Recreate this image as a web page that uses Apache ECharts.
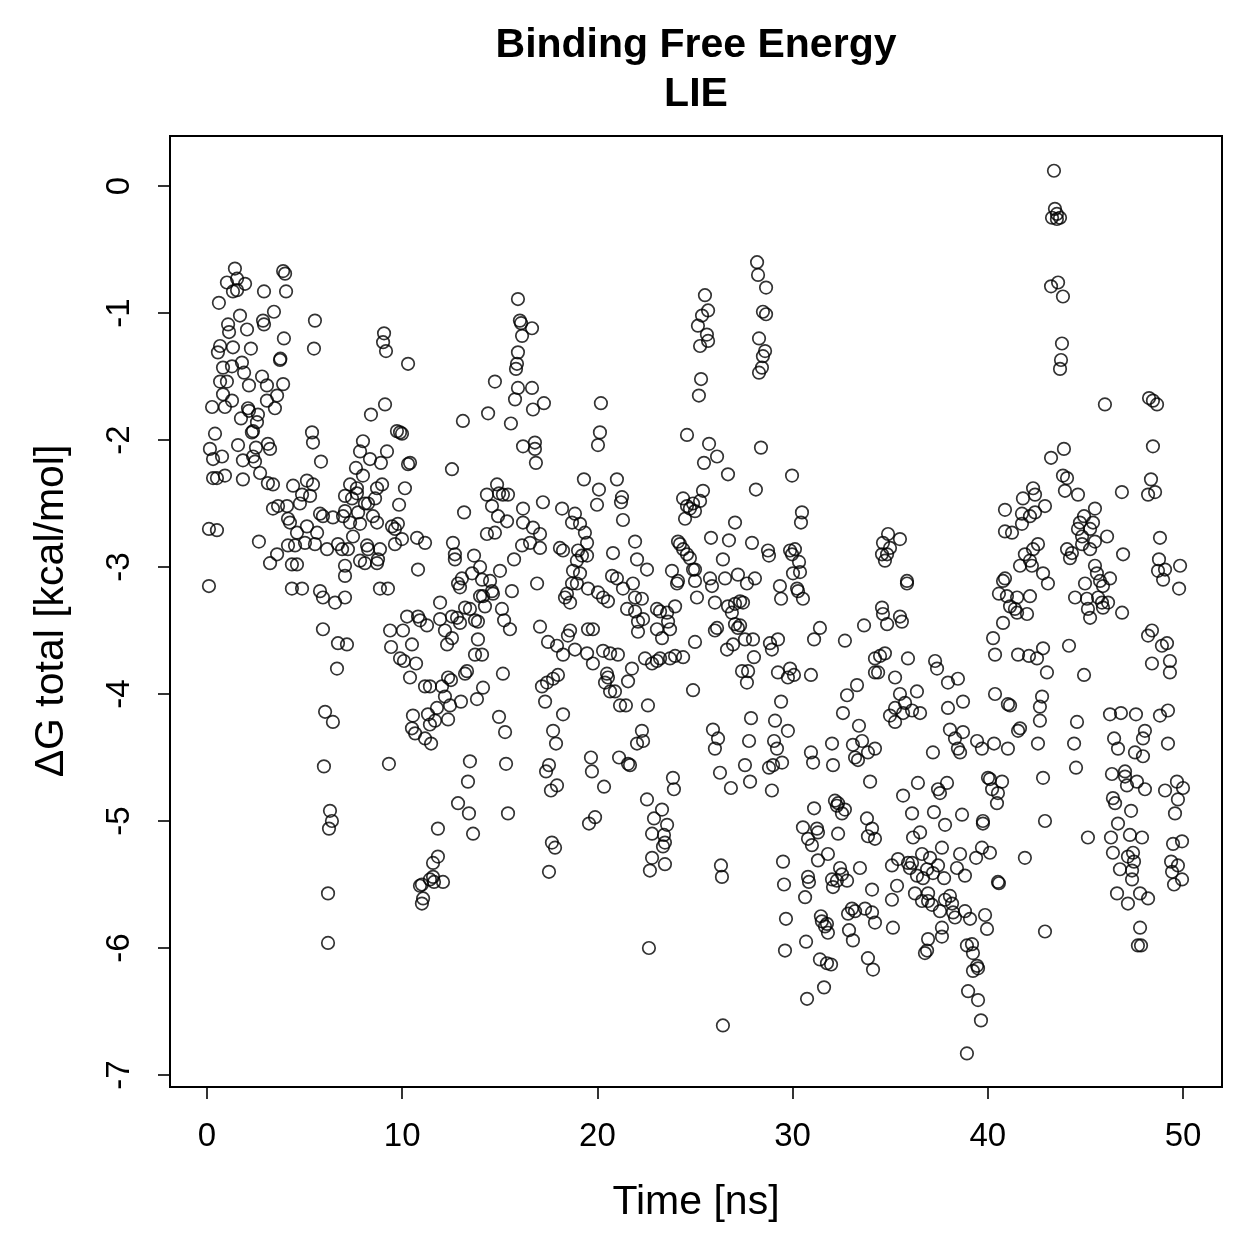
<!DOCTYPE html>
<html>
<head>
<meta charset="utf-8">
<script src="https://cdn.jsdelivr.net/npm/echarts@6/dist/echarts.min.js"></script>
<style>html,body{margin:0;padding:0;background:#fff}#c{width:1259px;height:1259px}</style>
</head>
<body>
<div id="c"></div>
<script>
// [time (ns), dG total (kcal/mol)] pairs, grouped by region
const early0to6 = [[1.43,-0.65],[3.9,-0.67],[4.0,-0.69],[1.02,-0.76],[1.54,-0.73],[1.95,-0.77],[1.33,-0.83],[1.54,-0.82],[2.92,-0.83],[4.05,-0.83],[0.61,-0.92],[3.43,-0.99],[1.69,-1.02],[1.08,-1.09],[2.87,-1.06],[2.92,-1.09],[5.53,-1.06],[2.05,-1.13],[1.13,-1.15],[3.94,-1.2],[0.67,-1.26],[0.56,-1.31],[1.33,-1.27],[2.25,-1.28],[5.48,-1.28],[3.74,-1.37],[3.76,-1.36],[1.79,-1.39],[0.82,-1.43],[1.28,-1.42],[1.9,-1.47],[2.82,-1.5],[0.67,-1.54],[1.02,-1.54],[2.15,-1.57],[3.07,-1.57],[3.9,-1.56],[0.82,-1.64],[3.59,-1.65],[1.28,-1.69],[3.07,-1.69],[0.26,-1.74],[0.92,-1.74],[3.48,-1.75],[2.1,-1.75],[2.15,-1.77],[2.61,-1.8],[1.74,-1.83],[2.56,-1.86],[2.36,-1.93],[2.3,-1.94],[0.41,-1.95],[5.38,-1.94],[5.43,-2.02],[0.15,-2.07],[0.31,-2.15],[1.59,-2.04],[0.77,-2.13],[2.51,-2.06],[2.36,-2.13],[2.46,-2.17],[3.12,-2.03],[3.23,-2.07],[1.84,-2.16],[5.84,-2.17],[0.31,-2.3],[0.51,-2.3],[0.92,-2.28],[1.84,-2.31],[2.72,-2.26],[3.12,-2.34],[3.38,-2.35],[0.1,-2.7],[0.51,-2.71],[2.66,-2.8],[0.1,-3.15]];
const early3to7 = [[4.41,-2.36],[5.12,-2.32],[5.43,-2.35],[4.87,-2.43],[5.28,-2.44],[4.76,-2.5],[3.38,-2.54],[3.64,-2.52],[4.1,-2.52],[4.15,-2.62],[4.25,-2.65],[5.79,-2.58],[5.94,-2.6],[6.45,-2.61],[6.97,-2.6],[4.61,-2.73],[5.12,-2.68],[5.64,-2.73],[4.15,-2.83],[4.51,-2.83],[5.02,-2.81],[5.53,-2.82],[6.15,-2.86],[6.71,-2.82],[6.92,-2.86],[3.59,-2.9],[3.23,-2.97],[4.35,-2.98],[4.61,-2.98],[4.35,-3.17],[4.87,-3.17],[5.79,-3.19],[5.94,-3.24],[6.56,-3.28]];
const dip6 = [[5.94,-3.49],[6.71,-3.6],[7.17,-3.61],[6.66,-3.8],[6.05,-4.14],[6.45,-4.22],[5.99,-4.57],[6.3,-4.92],[6.4,-5.0],[6.25,-5.06],[6.2,-5.57],[6.2,-5.96]];
const mid7to16 = [[15.93,-0.89],[16.03,-1.06],[16.09,-1.08],[16.14,-1.18],[15.93,-1.31],[15.88,-1.4],[15.83,-1.44],[15.93,-1.59],[15.78,-1.68],[15.57,-1.87],[16.19,-2.05],[14.75,-1.54],[14.4,-1.79],[13.11,-1.85],[9.07,-1.16],[9.02,-1.23],[9.17,-1.3],[10.3,-1.4],[9.12,-1.72],[8.4,-1.8],[9.73,-1.93],[9.89,-1.94],[9.99,-1.95],[7.99,-2.01],[7.84,-2.09],[8.35,-2.15],[8.91,-2.18],[9.22,-2.09],[10.3,-2.19],[10.4,-2.18],[7.63,-2.22],[7.99,-2.28],[12.55,-2.23],[10.14,-2.38],[7.33,-2.35],[7.68,-2.38],[7.68,-2.42],[8.71,-2.38],[8.97,-2.35],[7.07,-2.44],[7.43,-2.46],[8.09,-2.5],[8.25,-2.5],[8.61,-2.46],[9.84,-2.51],[13.17,-2.57],[7.07,-2.56],[7.74,-2.57],[8.5,-2.6],[7.33,-2.65],[7.84,-2.66],[8.71,-2.65],[9.48,-2.68],[9.63,-2.7],[9.78,-2.66],[7.48,-2.76],[9.99,-2.78],[9.63,-2.82],[10.76,-2.77],[11.17,-2.81],[8.2,-2.83],[8.25,-2.86],[8.86,-2.86],[7.22,-2.86],[7.84,-2.95],[8.09,-2.97],[8.71,-2.97],[8.76,-2.94],[7.07,-2.99],[7.07,-3.07],[10.81,-3.02],[12.6,-2.81],[12.7,-2.9],[12.7,-2.94],[13.68,-2.91],[13.99,-3.0],[15.01,-3.03],[15.73,-2.94],[16.19,-2.54],[16.19,-2.65],[16.14,-2.83],[13.06,-3.09],[12.86,-3.13],[12.96,-3.16],[13.58,-3.05],[14.09,-3.1],[14.5,-3.11],[14.6,-3.19],[14.65,-3.21],[14.14,-3.23],[13.99,-3.23],[15.62,-3.19],[8.86,-3.17],[9.27,-3.17],[7.07,-3.24],[11.94,-3.28],[13.22,-3.32],[13.47,-3.33],[14.24,-3.31],[15.11,-3.33],[10.25,-3.39],[10.81,-3.39],[12.55,-3.39],[14.34,-2.43],[14.86,-2.35],[14.96,-2.42],[15.16,-2.43],[15.42,-2.43],[14.6,-2.52],[14.91,-2.6],[15.37,-2.64],[14.34,-2.74],[14.75,-2.73]];
const mid9to15low = [[11.94,-3.41],[15.22,-3.42],[15.52,-3.49],[10.91,-3.42],[11.27,-3.46],[9.38,-3.5],[10.04,-3.5],[9.43,-3.63],[10.5,-3.61],[12.81,-3.4],[12.96,-3.44],[13.73,-3.42],[13.88,-3.43],[12.19,-3.5],[12.55,-3.56],[12.3,-3.61],[13.88,-3.57],[13.73,-3.69],[14.09,-3.69],[9.89,-3.72],[10.09,-3.74],[10.71,-3.76],[10.4,-3.87],[11.17,-3.94],[11.42,-3.94],[12.04,-3.94],[12.35,-3.87],[12.5,-3.89],[13.22,-3.84],[13.32,-3.82],[14.14,-3.95],[13.83,-4.04],[15.16,-3.84],[12.19,-4.02],[12.45,-4.09],[11.78,-4.11],[13.01,-4.06],[10.55,-4.17],[10.5,-4.27],[10.66,-4.31],[11.32,-4.16],[11.42,-4.24],[11.68,-4.21],[12.35,-4.2],[11.17,-4.35],[11.48,-4.39],[14.96,-4.18],[15.27,-4.3],[9.32,-4.55],[13.47,-4.53],[15.32,-4.55],[13.37,-4.69],[12.86,-4.86],[13.42,-4.94],[15.42,-4.94],[13.63,-5.1],[11.83,-5.06],[11.83,-5.28],[11.58,-5.33],[11.58,-5.44],[11.42,-5.46],[12.09,-5.48],[11.63,-5.48],[11.01,-5.5],[10.91,-5.51],[11.07,-5.61],[11.01,-5.65]];
const mid16to25 = [[16.65,-1.12],[16.65,-1.59],[16.7,-1.76],[17.26,-1.71],[16.8,-2.02],[16.8,-2.07],[16.85,-2.18],[20.18,-1.71],[20.13,-1.94],[20.03,-2.04],[24.59,-1.96],[19.31,-2.31],[20.08,-2.39],[19.98,-2.51],[21.0,-2.31],[21.26,-2.45],[21.21,-2.49],[17.21,-2.49],[18.19,-2.54],[18.85,-2.58],[16.7,-2.69],[17.06,-2.74],[16.55,-2.81],[17.06,-2.85],[18.7,-2.65],[19.11,-2.66],[19.36,-2.73],[19.47,-2.81],[24.39,-2.46],[24.59,-2.52],[24.74,-2.54],[24.9,-2.5],[24.49,-2.62],[21.31,-2.63],[21.93,-2.8],[18.08,-2.85],[18.24,-2.87],[19.01,-2.87],[19.21,-2.91],[18.95,-2.95],[19.47,-2.91],[20.8,-2.89],[22.03,-2.94],[22.54,-3.02],[24.13,-2.8],[24.23,-2.82],[24.39,-2.86],[24.59,-2.9],[24.74,-2.93],[24.9,-3.02],[23.82,-3.03],[24.13,-3.11],[24.08,-3.13],[16.91,-3.13],[18.75,-3.03],[19.11,-3.05],[18.7,-3.13],[18.95,-3.13],[20.75,-3.07],[21.0,-3.09],[21.82,-3.13],[18.44,-3.21],[18.6,-3.28],[18.34,-3.24],[19.52,-3.17],[20.03,-3.2],[20.29,-3.24],[20.54,-3.27],[21.31,-3.17],[21.93,-3.24],[22.28,-3.25],[21.52,-3.33],[21.93,-3.35],[23.05,-3.33],[23.21,-3.35],[23.98,-3.31]];
const mid16to25low = [[22.08,-3.43],[22.34,-3.41],[23.57,-3.36],[23.62,-3.43],[23.72,-3.49],[23.05,-3.49],[23.31,-3.56],[22.08,-3.51],[17.06,-3.47],[18.6,-3.5],[18.49,-3.54],[19.52,-3.49],[19.77,-3.49],[17.47,-3.59],[17.93,-3.62],[18.24,-3.69],[18.85,-3.65],[19.47,-3.68],[19.77,-3.76],[20.29,-3.66],[20.65,-3.68],[21.05,-3.69],[25.0,-3.59],[21.77,-3.8],[22.44,-3.72],[22.8,-3.76],[23.05,-3.74],[23.21,-3.72],[23.72,-3.72],[23.98,-3.7],[24.39,-3.71],[17.16,-3.94],[17.42,-3.91],[17.73,-3.88],[17.98,-3.85],[20.49,-3.84],[20.54,-3.87],[20.39,-3.91],[20.65,-3.98],[20.9,-3.98],[21.57,-3.9],[17.32,-4.06],[18.24,-4.16],[21.16,-4.09],[21.46,-4.09],[22.59,-4.09],[24.9,-3.97],[17.73,-4.29],[17.88,-4.39],[22.28,-4.29],[22.03,-4.39],[22.34,-4.37],[19.67,-4.5],[19.72,-4.61],[21.11,-4.5],[21.57,-4.55],[21.67,-4.56],[17.52,-4.56],[17.37,-4.61],[17.93,-4.72],[17.62,-4.76],[20.34,-4.73],[23.87,-4.66],[23.92,-4.75],[22.54,-4.83],[23.31,-4.91],[22.9,-4.98],[23.57,-5.03],[22.8,-5.1],[23.41,-5.11],[23.46,-5.17],[23.36,-5.2],[22.8,-5.29],[23.46,-5.34],[22.69,-5.39],[19.88,-4.97],[19.57,-5.02],[17.67,-5.17],[17.83,-5.21],[17.52,-5.4],[22.64,-6.0]];
const mid25to31 = [[28.18,-0.6],[28.23,-0.7],[28.64,-0.8],[28.48,-0.99],[28.64,-1.01],[25.51,-0.86],[25.67,-0.98],[25.36,-1.02],[25.15,-1.1],[25.61,-1.17],[25.67,-1.22],[25.26,-1.26],[28.28,-1.2],[28.59,-1.3],[28.48,-1.34],[28.43,-1.43],[28.28,-1.47],[25.31,-1.52],[25.2,-1.65],[25.72,-2.03],[26.13,-2.13],[25.46,-2.18],[28.38,-2.06],[26.69,-2.27],[29.97,-2.28],[28.12,-2.39],[25.41,-2.4],[25.26,-2.48],[25.0,-2.56],[30.48,-2.57],[30.43,-2.65],[27.05,-2.65],[25.82,-2.77],[26.74,-2.79],[27.92,-2.81],[28.74,-2.87],[28.79,-2.91],[29.87,-2.87],[30.12,-2.86],[29.97,-2.9],[30.33,-2.96],[30.02,-3.05],[30.38,-3.04],[26.43,-2.94],[25.0,-3.02],[25.0,-3.11],[25.1,-3.24],[25.77,-3.09],[25.87,-3.15],[26.54,-3.09],[27.2,-3.06],[27.66,-3.13],[28.07,-3.09],[29.35,-3.15],[29.41,-3.25],[30.23,-3.17],[30.28,-3.19],[30.53,-3.25],[26.02,-3.28],[26.69,-3.31],[27.05,-3.29],[27.31,-3.27],[27.46,-3.28],[26.89,-3.36]];
const mid25to35low = [[26.13,-3.48],[26.02,-3.5],[27.05,-3.45],[27.2,-3.48],[27.31,-3.46],[31.4,-3.48],[31.1,-3.57],[32.68,-3.58],[33.66,-3.46],[34.22,-3.72],[34.22,-3.83],[26.64,-3.65],[26.95,-3.61],[27.56,-3.57],[27.97,-3.57],[28.02,-3.71],[28.84,-3.6],[28.94,-3.65],[29.25,-3.57],[27.41,-3.82],[27.72,-3.82],[27.66,-3.91],[29.25,-3.83],[29.76,-3.87],[29.87,-3.8],[30.07,-3.85],[30.94,-3.85],[29.41,-4.06],[33.3,-3.93],[32.79,-4.01],[32.58,-4.15],[27.87,-4.19],[29.1,-4.21],[29.76,-4.29],[25.92,-4.28],[26.18,-4.35],[26.02,-4.43],[27.77,-4.37],[29.05,-4.37],[29.2,-4.43],[30.94,-4.46],[31.05,-4.54],[32.02,-4.39],[32.07,-4.56],[33.4,-4.25],[33.09,-4.4],[33.56,-4.37],[33.86,-4.46],[33.2,-4.5],[33.35,-4.52],[34.22,-4.43],[27.56,-4.56],[28.79,-4.58],[29.0,-4.56],[29.46,-4.54],[26.28,-4.62],[26.84,-4.74],[27.82,-4.69],[28.94,-4.76],[33.97,-4.69],[31.1,-4.9],[32.17,-4.84],[32.33,-4.86],[32.27,-4.88],[32.53,-4.94],[32.68,-4.91],[33.81,-4.98],[34.07,-5.06],[33.86,-5.12],[34.22,-5.14],[30.53,-5.05],[31.25,-5.06],[31.3,-5.09],[30.79,-5.14],[30.99,-5.19],[32.33,-5.1],[31.81,-5.26],[31.3,-5.31],[29.51,-5.32],[33.45,-5.37],[32.43,-5.37],[32.53,-5.42],[32.79,-5.47],[32.27,-5.47],[32.02,-5.46],[32.07,-5.52],[30.79,-5.44],[30.84,-5.48],[30.64,-5.6],[29.56,-5.5],[26.33,-5.35],[26.38,-5.44],[34.07,-5.54],[33.04,-5.69],[32.84,-5.73],[33.2,-5.71],[33.71,-5.69],[34.22,-5.8],[34.07,-5.72],[31.45,-5.75],[31.5,-5.79],[31.66,-5.83],[31.81,-5.88],[31.76,-5.81],[32.89,-5.86],[33.09,-5.94],[33.86,-6.08],[34.12,-6.17],[29.66,-5.77],[29.61,-6.02],[30.69,-5.95],[31.4,-6.09],[31.76,-6.12],[31.97,-6.13],[31.61,-6.31],[30.74,-6.4],[26.43,-6.61]];
const late34to43 = [[42.32,-2.38],[42.42,-2.43],[41.8,-2.46],[42.93,-2.52],[40.88,-2.55],[41.75,-2.58],[42.16,-2.6],[42.42,-2.57],[41.75,-2.66],[40.88,-2.72],[41.24,-2.73],[34.89,-2.74],[35.5,-2.78],[34.63,-2.81],[34.99,-2.85],[34.84,-2.9],[34.58,-2.9],[34.73,-2.95],[42.57,-2.82],[42.32,-2.86],[41.9,-2.9],[41.65,-2.99],[42.16,-2.95],[42.26,-2.99],[42.83,-3.05],[43.08,-3.13],[35.86,-3.11],[35.86,-3.13],[40.88,-3.09],[40.78,-3.11],[40.57,-3.21],[40.98,-3.23],[41.5,-3.24],[42.16,-3.23],[41.14,-3.31],[41.39,-3.33],[41.5,-3.36],[42.01,-3.37],[34.58,-3.32],[35.5,-3.39],[34.63,-3.37]];
const late43to50 = [[43.39,0.12],[43.44,-0.18],[43.54,-0.22],[43.29,-0.25],[43.7,-0.25],[43.54,-0.26],[43.24,-0.79],[43.6,-0.76],[43.85,-0.87],[43.8,-1.24],[43.75,-1.37],[43.7,-1.44],[46.0,-1.72],[48.26,-1.67],[48.46,-1.69],[48.67,-1.72],[43.24,-2.14],[43.9,-2.07],[48.46,-2.05],[43.85,-2.28],[44.06,-2.3],[43.95,-2.4],[44.62,-2.43],[46.87,-2.41],[48.36,-2.31],[48.21,-2.43],[48.57,-2.41],[45.49,-2.54],[44.93,-2.6],[44.72,-2.65],[45.39,-2.65],[44.62,-2.7],[45.24,-2.7],[44.83,-2.76],[45.49,-2.8],[46.11,-2.76],[45.24,-2.86],[44.06,-2.86],[44.31,-2.89],[44.21,-2.93],[44.83,-2.82],[48.82,-2.77],[46.93,-2.9],[48.77,-2.94],[48.72,-3.03],[49.08,-3.02],[48.98,-3.1],[49.85,-2.99],[49.8,-3.17],[45.49,-2.99],[45.59,-3.05],[45.75,-3.11],[45.9,-3.15],[46.26,-3.09],[44.98,-3.13],[44.47,-3.24],[45.08,-3.25],[45.65,-3.24],[45.85,-3.28],[46.16,-3.28],[45.9,-3.32],[45.13,-3.33],[46.88,-3.36]];
const late34to43low = [[34.84,-3.45],[35.6,-3.43],[40.78,-3.44],[40.27,-3.56],[40.37,-3.69],[41.55,-3.69],[42.11,-3.7],[42.52,-3.72],[42.83,-3.64],[43.03,-3.83],[34.48,-3.7],[34.73,-3.68],[35.91,-3.72],[37.3,-3.74],[37.4,-3.8],[34.38,-3.83],[35.25,-3.87],[37.96,-3.91],[38.47,-3.88],[38.73,-4.06],[37.96,-4.11],[38.06,-4.28],[38.73,-4.3],[38.32,-4.35],[38.47,-4.43],[38.58,-4.46],[37.19,-4.46],[35.5,-4.0],[36.37,-3.98],[35.25,-4.11],[35.76,-4.07],[35.66,-4.15],[36.12,-4.13],[36.53,-4.15],[34.99,-4.17],[35.25,-4.22],[40.37,-4.0],[41.03,-4.08],[41.14,-4.09],[42.78,-4.02],[42.67,-4.1],[42.67,-4.21],[41.65,-4.27],[41.55,-4.29],[42.57,-4.39],[39.45,-4.37],[39.7,-4.43],[40.32,-4.39],[41.03,-4.43],[35.66,-4.8],[36.42,-4.7],[37.45,-4.75],[37.55,-4.78],[37.91,-4.7],[40.01,-4.66],[40.11,-4.67],[40.73,-4.69],[40.22,-4.75],[40.52,-4.78],[40.47,-4.86],[42.83,-4.66],[36.12,-4.94],[37.24,-4.93],[37.81,-5.03],[38.68,-4.95],[39.75,-5.0],[39.75,-5.02],[36.17,-5.13],[36.53,-5.09],[42.93,-5.0],[37.65,-5.21],[36.63,-5.26],[37.04,-5.29],[38.58,-5.26],[39.4,-5.29],[39.7,-5.21],[40.11,-5.25],[41.9,-5.29],[35.09,-5.35],[35.4,-5.3],[35.91,-5.33],[36.01,-5.37],[36.12,-5.33],[36.37,-5.43],[36.68,-5.45],[36.89,-5.38],[37.19,-5.41],[37.45,-5.35],[37.76,-5.45],[38.42,-5.37],[38.83,-5.43],[40.52,-5.48],[40.57,-5.49],[35.35,-5.51],[35.09,-5.62],[36.27,-5.57],[36.63,-5.63],[36.94,-5.57],[36.94,-5.63],[37.14,-5.66],[37.55,-5.71],[37.81,-5.62],[38.06,-5.59],[38.17,-5.65],[38.22,-5.72],[38.32,-5.76],[38.83,-5.71],[39.09,-5.77],[39.86,-5.74],[39.96,-5.85],[35.14,-5.84],[37.65,-5.84],[37.65,-5.91],[36.94,-5.93],[36.78,-6.04],[36.89,-6.02],[42.93,-5.87],[38.93,-5.98],[39.19,-5.97],[39.24,-6.04],[39.45,-6.14],[39.24,-6.18],[39.5,-6.16],[38.99,-6.34],[39.5,-6.41],[39.65,-6.57],[38.93,-6.83]];
const late43to50low = [[45.24,-3.4],[44.16,-3.62],[44.93,-3.85],[48.41,-3.5],[48.21,-3.54],[48.92,-3.62],[49.18,-3.6],[48.41,-3.76],[49.33,-3.74],[49.33,-3.83],[44.57,-4.22],[44.42,-4.39],[44.52,-4.58],[46.26,-4.16],[46.82,-4.15],[47.59,-4.16],[48.82,-4.17],[49.23,-4.13],[46.47,-4.35],[46.67,-4.43],[48.05,-4.29],[47.95,-4.35],[47.54,-4.46],[47.95,-4.49],[49.23,-4.39],[46.36,-4.63],[47.03,-4.61],[47.03,-4.65],[47.13,-4.72],[47.64,-4.69],[48.05,-4.75],[46.41,-4.82],[46.52,-4.86],[47.34,-4.92],[49.69,-4.69],[50.0,-4.74],[49.08,-4.76],[49.74,-4.83],[49.59,-4.94],[46.67,-5.02],[46.31,-5.13],[47.28,-5.11],[47.9,-5.13],[45.13,-5.13],[49.49,-5.18],[49.95,-5.16],[46.41,-5.25],[47.18,-5.28],[47.44,-5.25],[47.49,-5.32],[46.77,-5.38],[47.39,-5.39],[47.39,-5.46],[49.39,-5.32],[49.74,-5.35],[49.44,-5.4],[49.95,-5.46],[49.54,-5.5],[46.62,-5.57],[47.18,-5.65],[47.8,-5.57],[48.21,-5.61],[47.8,-5.84],[47.69,-5.98],[47.85,-5.98]];

const xTicks = [0, 10, 20, 30, 40, 50];
const yTicks = [-7, -6, -5, -4, -3, -2, -1, 0];

const allPoints = [].concat(early0to6, early3to7, dip6, mid7to16, mid9to15low, mid16to25, mid16to25low,
  mid25to31, mid25to35low, late34to43, late43to50, late34to43low, late43to50low);

const FONT = '"Liberation Sans", Arial, Helvetica, sans-serif';
const chart = echarts.init(document.getElementById('c'), null, {renderer: 'canvas'});
chart.setOption({
  backgroundColor: '#fff',
  animation: false,
  grid: {left: 207, right: 76, top: 186, bottom: 184, containLabel: false},
  xAxis: {
    type: 'value', position: 'bottom', min: xTicks[0], max: xTicks[xTicks.length - 1], interval: 10, offset: 12,
    splitLine: {show: false},
    axisLine: {show: true, onZero: false, lineStyle: {color: '#000', width: 1.6}},
    axisTick: {show: true, inside: false, length: 12, lineStyle: {color: '#000', width: 1.6}},
    axisLabel: {color: '#000', fontSize: 33, fontFamily: FONT, margin: 33}
  },
  yAxis: {
    type: 'value', position: 'left', min: yTicks[0], max: yTicks[yTicks.length - 1], interval: 1, offset: 37,
    splitLine: {show: false},
    axisLine: {show: true, onZero: false, lineStyle: {color: '#000', width: 1.6}},
    axisTick: {show: true, inside: false, length: 12, lineStyle: {color: '#000', width: 1.6}},
    axisLabel: {color: '#000', fontSize: 33, fontFamily: FONT, margin: 34, rotate: 90}
  },
  series: [{
    type: 'scatter',
    data: allPoints,
    clip: false,
    symbol: 'circle',
    symbolSize: 12.5,
    itemStyle: {color: 'rgba(0,0,0,0)', borderColor: '#000', borderWidth: 1.7},
    emphasis: {disabled: true}
  }],
  graphic: [
    {type: 'rect', shape: {x: 170, y: 136, width: 1052, height: 951}, style: {fill: 'none', stroke: '#000', lineWidth: 2}, silent: true},
    {type: 'text', x: 696, y: 46, style: {text: 'Binding Free Energy', font: 'bold 41px ' + FONT, fill: '#000', textAlign: 'center', textVerticalAlign: 'middle'}},
    {type: 'text', x: 696, y: 95, style: {text: 'LIE', font: 'bold 41px ' + FONT, fill: '#000', textAlign: 'center', textVerticalAlign: 'middle'}},
    {type: 'text', x: 696, y: 1203, style: {text: 'Time [ns]', font: '41px ' + FONT, fill: '#000', textAlign: 'center', textVerticalAlign: 'middle'}},
    {type: 'text', x: 52, y: 611, rotation: Math.PI / 2, style: {text: 'ΔG total [kcal/mol]', font: '41px ' + FONT, fill: '#000', textAlign: 'center', textVerticalAlign: 'middle'}}
  ]
});
</script>
</body>
</html>
